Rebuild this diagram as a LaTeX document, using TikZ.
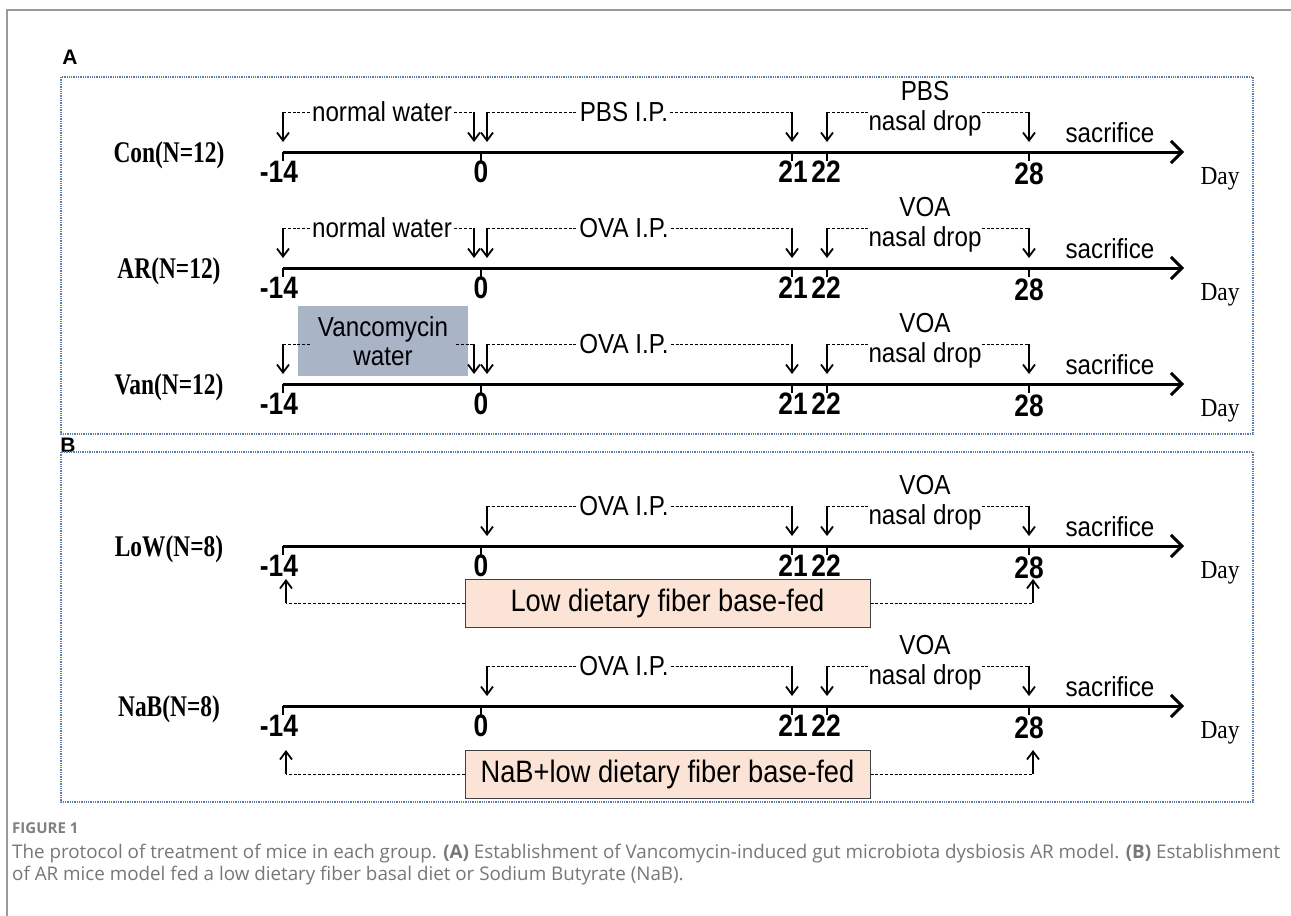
\documentclass[tikz,border=0pt]{standalone}
\usepackage{fontspec}
\setmainfont{Liberation Sans}
\newfontfamily\serifb{Liberation Serif}[FakeStretch=0.78]
\newfontfamily\serifr{Liberation Serif}[FakeStretch=0.9]
\newfontfamily\numfont{Liberation Sans}[FakeStretch=0.85]
\newfontfamily\lblfont{Liberation Sans}[FakeStretch=0.88]
\newfontfamily\capfont{Open Sans}
\usetikzlibrary{arrows.meta}
\definecolor{pnlblue}{HTML}{5A7DAE}
\definecolor{vanfill}{HTML}{A9B4C7}
\definecolor{peach}{HTML}{FBE4D5}
\definecolor{capgray}{HTML}{777777}
\definecolor{framegray}{HTML}{9A9A9A}
\tikzset{
  lbl/.style={font=\lblfont\fontsize{27.5}{30}\selectfont, inner sep=2pt},
  numl/.style={font=\numfont\bfseries\fontsize{31}{33}\selectfont, inner sep=0pt},
  grp/.style={font=\serifb\bfseries\fontsize{30}{32}\selectfont, inner sep=0pt},
  dayl/.style={font=\serifr\fontsize{26}{28}\selectfont, inner sep=0pt},
  darrow/.style={line width=1.8pt, -{Straight Barb[length=8pt,width=12pt]}},
  uarrow/.style={line width=1.8pt, -{Straight Barb[length=8pt,width=12pt]}},
  axisl/.style={line width=3pt, -{Straight Barb[length=11pt,width=22pt]}},
  tickl/.style={line width=2pt},
  dashln/.style={line width=1pt, dash pattern=on 3pt off 1.8pt},
  pnl/.style={draw=pnlblue, line width=1.1pt, dash pattern=on 1.3pt off 1pt},
  peachbox/.style={draw=black!75, line width=1pt, fill=peach, minimum width=405pt,
     minimum height=48pt, inner sep=0pt, font=\lblfont\fontsize{31}{33}\selectfont},
  panlab/.style={font=\bfseries\fontsize{21}{23}\selectfont, inner sep=0pt},
  capt/.style={font=\capfont\fontsize{18.8}{22}\selectfont, text=capgray, inner sep=0pt, anchor=base west},
}
% common timeline: #1 y, #2 group label, #3 prefix, #4 I.P. text, #5 drop text
\newcommand\tline[5]{%
  \node[grp] (#3lab) at (169,#1+3) {#2};
  \coordinate (#3s) at (283,#1);
  \coordinate (#3e) at (1184,#1);
  \draw[axisl] (#3s) -- (#3e);
  \foreach \xx in {283,481,792,827,1029} \draw[tickl] (\xx,#1) -- (\xx,#1+9);
  \node[numl] (#3n1) at (279,#1+20) {-14};
  \node[numl] (#3n2) at (481,#1+20) {0};
  \node[numl] (#3n3) at (793,#1+20) {21};
  \node[numl] (#3n4) at (826,#1+20) {22};
  \node[numl] (#3n5) at (1029,#1+22) {28};
  \node[dayl] (#3day) at (1220,#1+27) {Day};
  \node[lbl] (#3sac) at (1110,#1-19) {sacrifice};
  % I.P. bracket
  \coordinate (#3ipa) at (487,#1-40);
  \coordinate (#3ipat) at (487,#1-10);
  \coordinate (#3ipb) at (792,#1-40);
  \coordinate (#3ipbt) at (792,#1-10);
  \node[lbl] (#3ip) at (624,#1-40) {#4};
  \draw[dashln] (#3ipa) -- (#3ip.west);
  \draw[dashln] (#3ip.east) -- (#3ipb);
  \draw[darrow] (#3ipa) -- (#3ipat);
  \draw[darrow] (#3ipb) -- (#3ipbt);
  % nasal drop bracket
  \coordinate (#3na) at (827,#1-40);
  \coordinate (#3nat) at (827,#1-10);
  \coordinate (#3nb) at (1029,#1-40);
  \coordinate (#3nbt) at (1029,#1-10);
  \node[lbl, inner sep=0pt] (#3nd) at (925,#1-29) {nasal drop};
  \node[lbl, inner sep=0pt] (#3top) at (925,#1-61) {#5};
  \draw[dashln] (#3na) -- (#3nd.west |- #3na);
  \draw[dashln] (#3nd.east |- #3nb) -- (#3nb);
  \draw[darrow] (#3na) -- (#3nat);
  \draw[darrow] (#3nb) -- (#3nbt);
}
% normal water bracket: #1 y, #2 prefix
\newcommand\water[2]{%
  \coordinate (#2wa) at (283,#1-40);
  \coordinate (#2wat) at (283,#1-10);
  \coordinate (#2wb) at (474,#1-40);
  \coordinate (#2wbt) at (474,#1-10);
  \node[lbl] (#2nw) at (382,#1-40) {normal water};
  \draw[dashln] (#2wa) -- (#2nw.west);
  \draw[dashln] (#2nw.east) -- (#2wb);
  \draw[darrow] (#2wa) -- (#2wat);
  \draw[darrow] (#2wb) -- (#2wbt);
}
% lower diet bracket: #1 box centre y, #2 prefix, #3 text
\newcommand\diet[3]{%
  \node[peachbox] (#2box) at (667.5,#1) {#3};
  \coordinate (#2ua) at (286,#1);
  \coordinate (#2uat) at (286,#1-24);
  \coordinate (#2ub) at (1033,#1);
  \coordinate (#2ubt) at (1033,#1-24);
  \draw[dashln] (#2box.west) -- (#2ua);
  \draw[dashln] (#2box.east) -- (#2ub);
  \draw[uarrow] (#2ua) -- (#2uat);
  \draw[uarrow] (#2ub) -- (#2ubt);
}
\begin{document}
\begin{tikzpicture}[x=1pt,y=-1pt]
\useasboundingbox (0,0) rectangle (1291,916);
\fill[white] (0,0) rectangle (1291,916);
% outer frame
\draw[framegray, line width=1.5pt] (7,916) -- (7,10) -- (1291,10);
% panels
\node[panlab] (labA) at (70,57) {A};
\node[panlab] (labB) at (68,445) {B};
\draw[pnl] (61,77) rectangle (1253,434);
\draw[pnl] (61,452) rectangle (1253,802);
% panel A
\tline{152}{Con(N=12)}{C}{PBS I.P.}{PBS}
\water{152}{C}
\tline{268}{AR(N=12)}{R}{OVA I.P.}{VOA}
\water{268}{R}
\node[fill=vanfill, minimum width=170pt, minimum height=70pt, inner sep=0pt, align=center,
      font=\lblfont\fontsize{27.5}{29}\selectfont] (vanbox) at (383,341) {Vancomycin\\water};
\tline{384}{Van(N=12)}{V}{OVA I.P.}{VOA}
\coordinate (Vwa) at (283,344);
\coordinate (Vwat) at (283,374);
\coordinate (Vwa2) at (310,344);
\coordinate (Vwb2) at (456,344);
\coordinate (Vwb) at (474,344);
\coordinate (Vwbt) at (474,374);
\draw[dashln] (Vwa) -- (Vwa2);
\draw[dashln] (Vwb2) -- (Vwb);
\draw[darrow] (Vwa) -- (Vwat);
\draw[darrow] (Vwb) -- (Vwbt);
% panel B
\tline{546}{LoW(N=8)}{L}{OVA I.P.}{VOA}
\diet{603}{L}{Low dietary fiber base-fed}
\tline{706}{NaB(N=8)}{N}{OVA I.P.}{VOA}
\diet{774}{N}{NaB+low dietary fiber base-fed}
% caption
\node[capt, font=\capfont\bfseries\fontsize{15}{17}\selectfont, text=black!50] (fig) at (12,833) {FIGURE 1};
\node[capt] (cap1) at (12,858) {The protocol of treatment of mice in each group. \textbf{(A)} Establishment of Vancomycin-induced gut microbiota dysbiosis AR model. \textbf{(B)} Establishment};
\node[capt] (cap2) at (12,880) {of AR mice model fed a low dietary fiber basal diet or Sodium Butyrate (NaB).};
\end{tikzpicture}
\end{document}
